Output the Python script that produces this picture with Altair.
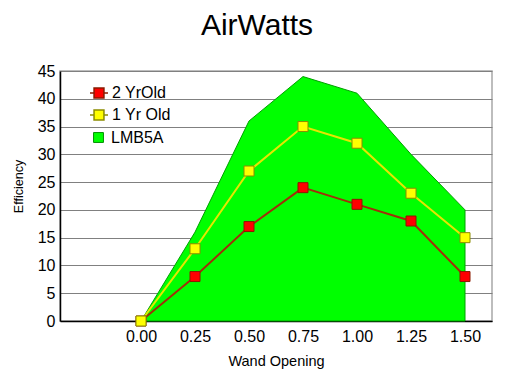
import altair as alt
import pandas as pd

x_vals = [0.00, 0.25, 0.50, 0.75, 1.00, 1.25, 1.50]
old2 = [0, 8, 17, 24, 21, 18, 8]
old1 = [0, 13, 27, 35, 32, 23, 15]
lmb5a = [0, 16, 36, 44, 41, 30, 20]
series = ["2 YrOld", "1 Yr Old", "LMB5A"]
y_ticks = [0, 5, 10, 15, 20, 25, 30, 35, 40, 45]

rows = []
for name, vals in zip(series, [old2, old1, lmb5a]):
    for xv, yv in zip(x_vals, vals):
        rows.append({"series": name, "x": xv, "y": yv})
df = pd.DataFrame(rows)

FONT = "Liberation Sans"
pt_fill = alt.Scale(domain=series[:2], range=["#FF0000", "#FFFF00"])
pt_stroke = alt.Scale(domain=series[:2], range=["#8B1A00", "#8C8C00"])
area_fill = alt.Scale(domain=series[2:], range=["#00FF00"])
line_scale = alt.Scale(domain=series[:2], range=["#A0300A", "#E6E600"])

xenc = alt.X("x:Q", scale=alt.Scale(domain=[-0.375, 1.625], nice=False, zero=False),
             axis=alt.Axis(values=x_vals, format=".2f", title="Wand Opening", grid=False,
                           ticks=False, domainColor="black", domainWidth=1.5,
                           labelFontSize=16, labelPadding=7, titleFontSize=14.5,
                           titleFontWeight="normal", titlePadding=10, labelFont=FONT, titleFont=FONT,
                           labelColor="black", titleColor="black"))
yenc = alt.Y("y:Q", scale=alt.Scale(domain=[0, 45], nice=False),
             axis=alt.Axis(values=y_ticks, title="Efficiency", grid=True, gridColor="#808080",
                           ticks=False, domainColor="black", domainWidth=1.5, labelOverlap=False,
                           labelFontSize=16, labelPadding=5, titleFontSize=12.5,
                           titleFontWeight="normal", titlePadding=12, titleY=115,
                           labelFont=FONT, titleFont=FONT,
                           labelColor="black", titleColor="black"))

base = alt.Chart(df)

sym_line = "M-1,0H-0.55M0.55,0H1M-0.55,-0.55H0.55V0.55H-0.55Z"
sym_sq = "M-0.55,-0.55H0.55V0.55H-0.55Z"

area_legend = alt.Legend(
    title=None, orient="none", legendX=29, legendY=57, labelFontSize=16, labelFont=FONT,
    labelColor="black", padding=0, symbolSize=324, labelOffset=3, symbolType=sym_sq,
    symbolStrokeColor="#009000", symbolStrokeWidth=1, symbolOpacity=1)

area = base.transform_filter(alt.datum.series == "LMB5A").mark_area(
    stroke="#00A000", strokeWidth=1, opacity=1
).encode(x=xenc, y=yenc,
         fill=alt.Fill("series:N", scale=area_fill, legend=area_legend))

lines = base.transform_filter(alt.datum.series != "LMB5A").mark_line(strokeWidth=2).encode(
    x=xenc, y=yenc,
    color=alt.Color("series:N", scale=line_scale, legend=None),
    detail="series:N")

pt_legend = alt.Legend(
    title=None, orient="none", legendX=29, legendY=12, labelFontSize=16, labelFont=FONT,
    labelColor="black", rowPadding=4, padding=0, symbolSize=324, labelOffset=3,
    symbolType=sym_line, symbolStrokeWidth=1.5, symbolOpacity=1)

points = base.transform_filter(alt.datum.series != "LMB5A").mark_point(
    shape="square", filled=True, size=100, strokeWidth=1, opacity=1
).encode(x=xenc, y=yenc,
         fill=alt.Fill("series:N", scale=pt_fill, legend=pt_legend),
         stroke=alt.Stroke("series:N", scale=pt_stroke, legend=pt_legend))

chart = alt.layer(area, lines, points).properties(
    width=432, height=250,
    title=alt.Title("AirWatts", fontSize=30, font=FONT, fontWeight="normal", color="black",
                    anchor="middle", offset=22, dx=-19),
    autosize=alt.AutoSizeParams(type="none"),
    padding={"left": 52, "top": 63, "right": 12, "bottom": 50},
).resolve_scale(color="independent", fill="independent", stroke="independent").configure_view(
    stroke="#A8A8A8", strokeWidth=1.5)

chart.save("out.html", embed_options={"renderer": "svg", "actions": False})
